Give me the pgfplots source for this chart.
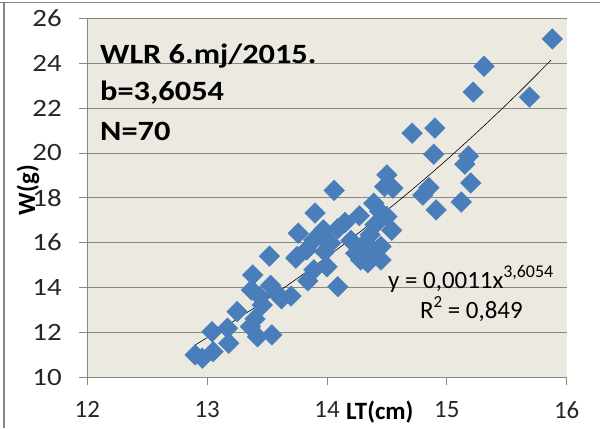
\documentclass[border=0pt]{standalone}
\usepackage{pgfplots}
\pgfplotsset{compat=1.18}
\usepackage{fontspec}
\setmainfont{Carlito}
\newfontfamily\widefont[FakeStretch=1.16]{Carlito}
\definecolor{plotbg}{RGB}{236,234,224}
\definecolor{markblue}{RGB}{74,126,187}
\definecolor{gridgray}{RGB}{134,134,134}

\begin{document}
\begin{tikzpicture}[x=1bp,y=1bp]
\useasboundingbox (0,0) rectangle (600,428);
\draw[gridgray, line width=1bp] (0,425.5) -- (600,425.5);
\draw[gridgray, line width=1.2bp] (4,0) -- (4,426);
\begin{axis}[
  at={(87.3bp,50.7bp)}, anchor=south west,
  scale only axis, width=479.4bp, height=359bp,
  xmin=12, xmax=16, ymin=10, ymax=26,
  xtick={12,13,14,15,16}, ytick={10,12,...,26},
  axis x line=bottom, axis y line=left,
  axis line style={gridgray, line width=0.8bp, -},
  tick align=outside, major tick length=8bp,
  tick style={gridgray, line width=0.8bp},
  ymajorgrids, grid style={gridgray, line width=0.8bp},
  axis background/.style={fill=plotbg},
  xticklabel style={font=\fontsize{25}{25}\selectfont, text=black!85, yshift=-13bp},
  yticklabel style={font=\widefont\fontsize{25}{25}\selectfont, text=black!85, xshift=-14bp},
  /pgf/number format/assume math mode=true,
]
\addplot[only marks, mark=square*, mark size=7.3bp,
  mark options={rotate=45, fill=markblue, draw=markblue}] table {
x y
15.88 25.08
15.31 23.86
15.22 22.71
15.69 22.49
14.71 20.88
14.90 21.11
14.89 19.94
15.18 19.86
15.15 19.50
15.20 18.66
15.12 17.81
14.91 17.46
14.85 18.45
14.80 18.12
14.50 19.02
14.48 18.50
14.55 18.43
14.06 18.33
14.39 17.76
14.27 17.20
14.50 17.16
14.54 16.55
14.36 16.35
14.44 17.40
13.90 17.32
13.76 16.42
13.97 16.57
14.09 16.62
13.89 16.12
13.75 15.38
13.83 15.68
14.03 15.98
14.24 15.53
14.28 15.23
14.45 15.83
14.45 15.23
14.36 15.53
14.00 14.93
13.89 14.79
14.09 14.04
14.20 16.10
14.30 15.90
14.34 15.10
13.95 16.30
13.52 15.40
13.74 15.31
13.38 14.56
13.37 13.89
13.53 14.10
13.44 13.60
13.58 13.75
13.70 13.62
13.25 12.93
13.36 12.26
13.42 11.81
13.54 11.89
13.04 12.03
13.17 12.19
13.18 11.52
12.90 11.00
12.96 10.85
13.05 11.14
13.46 13.22
13.40 12.60
13.62 13.50
13.84 14.30
14.40 16.80
14.15 16.90
13.98 15.60
14.38 15.70
};
\addplot[black, line width=0.6bp, smooth] coordinates {
(12.9,11.44) (13.2,12.43) (13.5,13.47) (13.8,14.59) (14.1,15.76)
(14.4,17.01) (14.7,18.32) (15.0,19.70) (15.3,21.16) (15.6,22.69) (15.87,24.14)
};
\end{axis}
\node[anchor=base west, inner sep=0, font=\widefont\bfseries\fontsize{28}{28}\selectfont] at (100,365) {WLR 6.mj/2015.};
\node[anchor=base west, inner sep=0, font=\widefont\bfseries\fontsize{28}{28}\selectfont] at (100,328) {b=3,6054};
\node[anchor=base west, inner sep=0, font=\widefont\bfseries\fontsize{28}{28}\selectfont] at (100,288) {N=70};
\node[anchor=base west, inner sep=0, font=\fontsize{25}{25}\selectfont] at (388,140) {y = 0,0011x\raisebox{0.42em}{\fontsize{18}{18}\selectfont 3,6054}};
\node[anchor=base west, inner sep=0, font=\fontsize{25}{25}\selectfont] at (420,110) {R\raisebox{0.42em}{\fontsize{17}{17}\selectfont 2} = 0,849};
\node[anchor=base west, inner sep=0, font=\bfseries\fontsize{25}{25}\selectfont] at (346,9) {LT(cm)};
\node[rotate=90, anchor=center, inner sep=0, font=\bfseries\fontsize{25}{25}\selectfont] at (28,238) {W(g)};
\end{tikzpicture}
\end{document}
